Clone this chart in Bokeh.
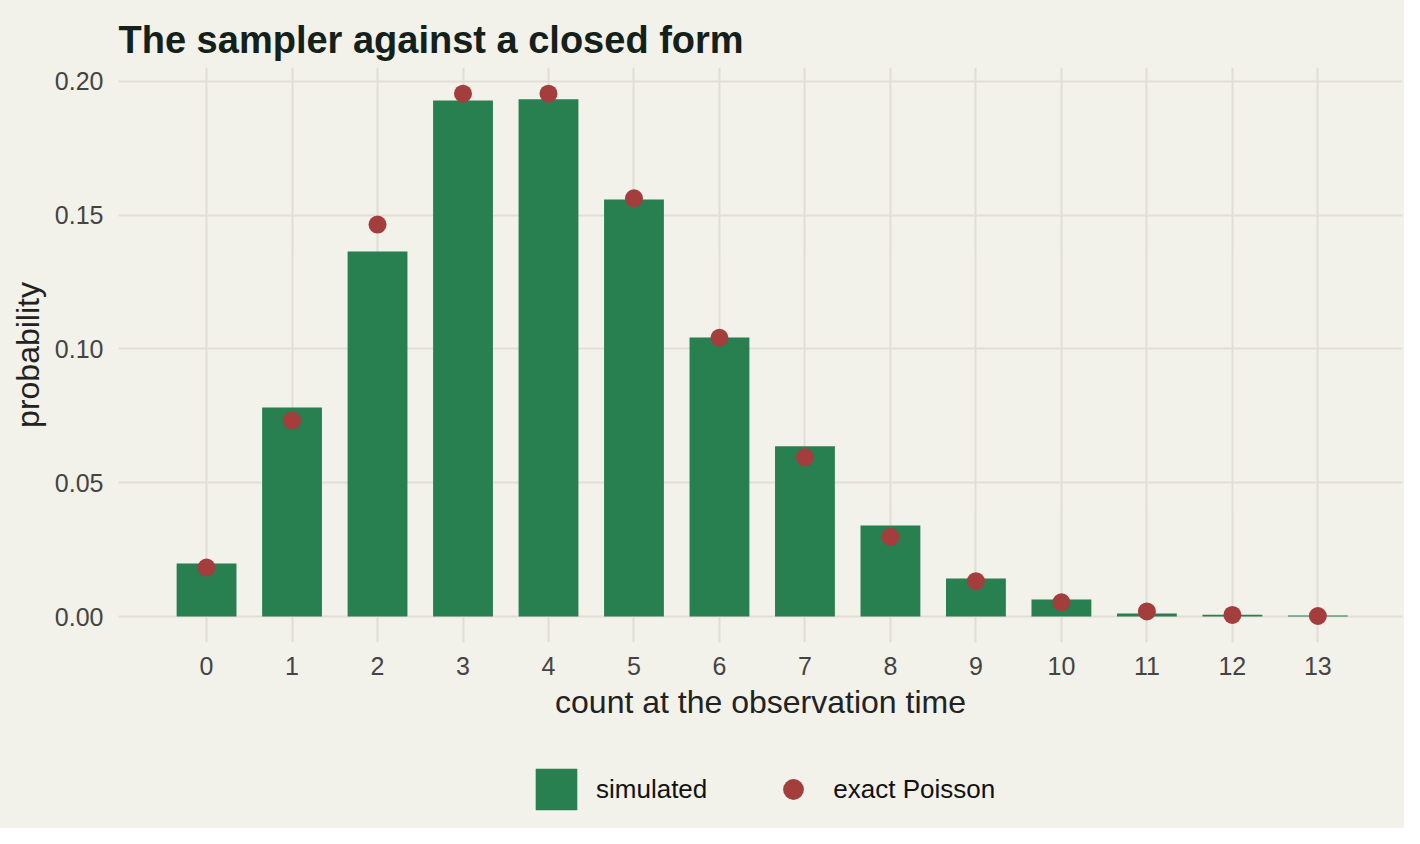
from bokeh.embed import file_html
from bokeh.layouts import column
from bokeh.models import ColumnDataSource, FixedTicker, Legend, LegendItem, NumeralTickFormatter, Range1d
from bokeh.plotting import figure
from bokeh.resources import INLINE

# counts observed at the end of the run
counts = [0, 1, 2, 3, 4, 5, 6, 7, 8, 9, 10, 11, 12, 13]
simulated = [0.0198, 0.0781, 0.1364, 0.1929, 0.1933, 0.1559, 0.1043,
             0.0636, 0.0340, 0.0142, 0.0064, 0.0011, 0.0007, 0.0004]
exact_poisson = [0.0183, 0.0733, 0.1465, 0.1954, 0.1954, 0.1563, 0.1042,
                 0.0595, 0.0298, 0.0132, 0.0053, 0.0019, 0.0006, 0.0002]
y_ticks = [0.0, 0.05, 0.10, 0.15, 0.20]
series_names = ["simulated", "exact Poisson"]

BG = "#F2F1EA"
GRID = "#E1DFD5"
GREEN = "#287F50"
RED = "#A43E3D"
FONT = "Liberation Sans"

src = ColumnDataSource(data=dict(count=counts, sim=simulated, exact=exact_poisson))

p = figure(width=1404, height=728, output_backend="svg", toolbar_location=None,
           x_range=Range1d(-1.03, 13.99), y_range=Range1d(-0.0097, 0.2052),
           min_border_left=118, min_border_right=2, min_border_top=67, min_border_bottom=86,
           background_fill_color=BG, border_fill_color=BG,
           title="The sampler against a closed form")
p.outline_line_color = None

p.title.text_font = FONT
p.title.text_font_size = "38px"
p.title.text_font_style = "bold"
p.title.text_color = "#14201A"
p.title.standoff = 14

p.vbar(x="count", top="sim", width=0.7, source=src, fill_color=GREEN, line_color=None)
p.scatter(x="count", y="exact", size=18, source=src, fill_color=RED, line_color=None)

# grid
p.xgrid.ticker = FixedTicker(ticks=counts)
p.ygrid.ticker = FixedTicker(ticks=y_ticks)
p.grid.grid_line_color = GRID
p.grid.grid_line_width = 2

# axes
p.xaxis.ticker = FixedTicker(ticks=counts)
p.yaxis.ticker = FixedTicker(ticks=y_ticks)
p.yaxis.formatter = NumeralTickFormatter(format="0.00")
p.xaxis.axis_label = "count at the observation time"
p.yaxis.axis_label = "probability"
for ax in (p.xaxis, p.yaxis):
    ax.axis_line_color = None
    ax.major_tick_line_color = None
    ax.minor_tick_line_color = None
    ax.major_tick_out = 0
    ax.major_tick_in = 0
    ax.major_label_text_font = FONT
    ax.major_label_text_font_size = "25px"
    ax.major_label_text_color = "#444444"
    ax.axis_label_text_font = FONT
    ax.axis_label_text_font_size = "32px"
    ax.axis_label_text_font_style = "normal"
    ax.axis_label_text_color = "#222222"
p.xaxis.major_label_standoff = 14
p.xaxis.axis_label_standoff = 6
p.yaxis.major_label_standoff = 15
p.yaxis.axis_label_standoff = 6

# legend strip under the chart (own small figure, so nothing gets clipped);
# hidden copies of the two series give the legend its glyphs
leg = figure(width=1404, height=100, output_backend="svg", toolbar_location=None,
             x_axis_type=None, y_axis_type=None, min_border=0,
             x_range=Range1d(-1.03, 13.99), y_range=Range1d(-0.0097, 0.2052),
             background_fill_color=BG, border_fill_color=BG)
leg.outline_line_color = None
key_bar = leg.vbar(x="count", top="sim", width=0.7, source=src,
                   fill_color=GREEN, line_color=None, visible=False)
key_dot = leg.scatter(x="count", y="exact", size=18, source=src,
                      fill_color=RED, line_color=None, visible=False)

legend = Legend(items=[LegendItem(label=series_names[0], renderers=[key_bar]),
                       LegendItem(label=series_names[1], renderers=[key_dot])],
                orientation="horizontal", location=(412, 13))
legend.background_fill_alpha = 0
legend.border_line_color = None
legend.inactive_fill_alpha = 0
legend.glyph_width = 52
legend.glyph_height = 52
legend.label_standoff = 14
legend.spacing = 60
legend.padding = 0
legend.margin = 0
legend.label_text_font = FONT
legend.label_text_font_size = "26px"
legend.label_text_color = "#111111"
leg.add_layout(legend, "center")

page = column(p, leg, spacing=0, styles={"background-color": BG})
open("out.html", "w").write(file_html(page, INLINE))
